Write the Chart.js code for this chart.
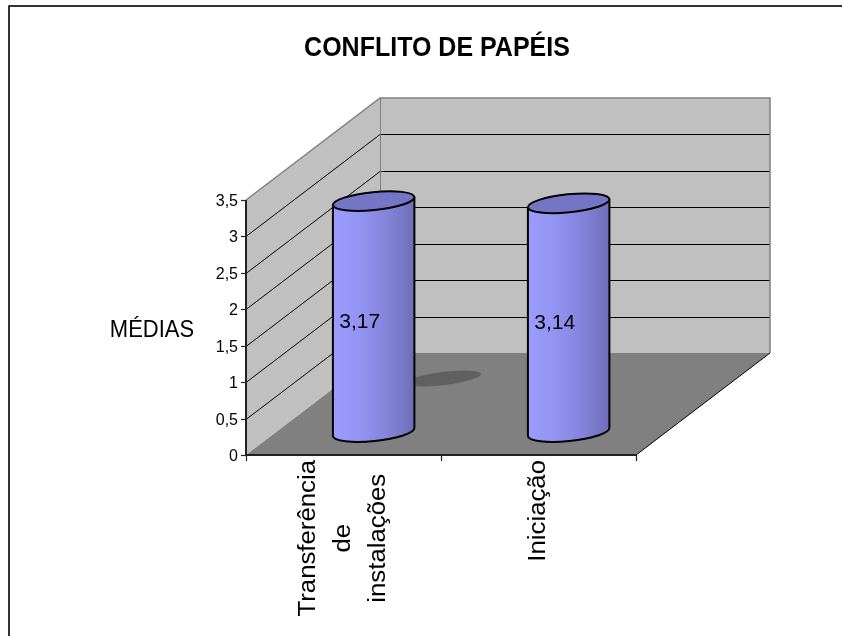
<!DOCTYPE html>
<html>
<head>
<meta charset="utf-8">
<script src="https://cdn.jsdelivr.net/npm/chart.js@4/dist/chart.umd.min.js"></script>
<style>
  html, body { margin: 0; padding: 0; background: #fff; }
  canvas { display: block; }
</style>
</head>
<body>
<canvas id="chart" width="842" height="636"></canvas>
<script>
// Chart content
const chartTitle = 'CONFLITO DE PAPÉIS';
const axisTitle = 'MÉDIAS';
const categories = [['Transferência', 'de', 'instalações'], ['Iniciação']];
const medias = [3.17, 3.14];
const yMin = 0;
const yMax = 3.5;
const yStep = 0.5;

const FONT = '"Liberation Sans", Arial, Helvetica, sans-serif';
const fmt = v => String(Math.round(v * 100) / 100).replace('.', ',');

// Oblique projection of the plot box: offset from the front plane to the back wall
const DEPTH = { dx: 134, dy: -102 };
const BAR_DEPTH = 0.225;   // cylinders stand a little behind the front edge

function poly(ctx, pts) {
  ctx.beginPath();
  ctx.moveTo(pts[0][0], pts[0][1]);
  for (let i = 1; i < pts.length; i++) ctx.lineTo(pts[i][0], pts[i][1]);
  ctx.closePath();
}
function line(ctx, x1, y1, x2, y2) {
  ctx.beginPath(); ctx.moveTo(x1, y1); ctx.lineTo(x2, y2); ctx.stroke();
}
function stretchedText(ctx, text, x, y, sy) {
  ctx.save();
  ctx.translate(x, y);
  ctx.scale(1, sy);
  ctx.fillText(text, 0, 0);
  ctx.restore();
}

const scene3d = {
  id: 'scene3d',
  beforeDatasetsDraw(chart) {
    const { ctx, chartArea: a, scales: { x, y } } = chart;
    const L = a.left, R = a.right, T = a.top, B = a.bottom;
    const dx = DEPTH.dx, dy = DEPTH.dy;
    ctx.save();

    // walls
    ctx.fillStyle = '#c0c0c0';
    poly(ctx, [[L, T], [L + dx, T + dy], [L + dx, B + dy], [L, B]]);
    ctx.fill();
    ctx.fillRect(L + dx, T + dy, R - L, B - T);

    // floor
    ctx.fillStyle = '#808080';
    poly(ctx, [[L, B], [L + dx, B + dy], [R + dx, B + dy], [R, B]]);
    ctx.fill();

    // gridlines on side and back walls
    ctx.lineWidth = 1;
    ctx.strokeStyle = '#000';
    y.ticks.forEach(t => {
      if (t.value <= yMin || t.value >= yMax) return;
      const py = Math.round(y.getPixelForValue(t.value)) + 0.5;
      line(ctx, L, py, L + dx, py + dy);
      line(ctx, L + dx, py + dy, R + dx, py + dy);
    });

    // wall edges
    ctx.strokeStyle = '#808080';
    ctx.lineWidth = 1.5;
    ctx.beginPath();
    ctx.moveTo(L, T); ctx.lineTo(L + dx, T + dy); ctx.lineTo(R + dx, T + dy); ctx.lineTo(R + dx, B + dy);
    ctx.stroke();
    ctx.lineWidth = 1;
    line(ctx, L + dx + 0.5, T + dy, L + dx + 0.5, B + dy);

    // floor edge
    ctx.strokeStyle = '#000';
    ctx.lineWidth = 1;
    line(ctx, R, B, R + dx, B + dy);

    // shadow cast on the floor
    const first = chart.getDatasetMeta(0).data[0];
    ctx.fillStyle = '#606060';
    ctx.beginPath();
    ctx.ellipse(first.x + 100, B + dy * 0.75, 38, 6.5, -0.12, 0, Math.PI * 2);
    ctx.fill();

    // axes
    ctx.strokeStyle = '#222';
    ctx.lineWidth = 2;
    line(ctx, L, T, L, B + 1);
    line(ctx, L - 1, B, R + 1, B);

    // y ticks and labels
    ctx.lineWidth = 1.2;
    ctx.fillStyle = '#000';
    ctx.font = '16px ' + FONT;
    ctx.textAlign = 'right';
    ctx.textBaseline = 'middle';
    y.ticks.forEach(t => {
      const py = Math.round(y.getPixelForValue(t.value)) + 0.5;
      line(ctx, L - 5, py, L, py);
      ctx.fillText(fmt(t.value), L - 8, py + 1);
    });

    // x ticks at category boundaries
    const n = categories.length;
    for (let i = 0; i <= n; i++) {
      const px = Math.round(L + (R - L) * i / n) + 0.5;
      line(ctx, px, B, px, B + 6);
    }
    ctx.restore();
  },

  afterDatasetsDraw(chart) {
    const { ctx, chartArea: a, scales: { x } } = chart;
    const meta = chart.getDatasetMeta(0);
    ctx.save();

    meta.data.forEach((bar, i) => {
      const cx = bar.x + DEPTH.dx * BAR_DEPTH;
      const top = bar.y + DEPTH.dy * BAR_DEPTH;
      const bot = bar.base + DEPTH.dy * BAR_DEPTH;
      const rx = bar.width / 2, ry = 9, rot = -0.1;
      const ex = rx * Math.cos(rot), ey = rx * Math.sin(rot);

      const grad = ctx.createLinearGradient(cx - rx, 0, cx + rx, 0);
      grad.addColorStop(0, '#9c9cff');
      grad.addColorStop(0.3, '#9494f4');
      grad.addColorStop(0.6, '#8787e0');
      grad.addColorStop(0.85, '#7878c8');
      grad.addColorStop(1, '#6c6cb6');

      ctx.beginPath();
      ctx.moveTo(cx - ex, top - ey);
      ctx.lineTo(cx - ex, bot - ey);
      ctx.ellipse(cx, bot, rx, ry, rot, Math.PI, 0, true);
      ctx.lineTo(cx + ex, top + ey);
      ctx.ellipse(cx, top, rx, ry, rot, 0, Math.PI, false);
      ctx.closePath();
      ctx.fillStyle = grad;
      ctx.fill();

      ctx.strokeStyle = '#000';
      ctx.lineWidth = 2;
      ctx.lineJoin = 'round';
      ctx.beginPath();
      ctx.moveTo(cx - ex, top - ey);
      ctx.lineTo(cx - ex, bot - ey);
      ctx.ellipse(cx, bot, rx, ry, rot, Math.PI, 0, true);
      ctx.lineTo(cx + ex, top + ey);
      ctx.stroke();

      ctx.beginPath();
      ctx.ellipse(cx, top, rx, ry, rot, 0, Math.PI * 2);
      ctx.fillStyle = '#7575c6';
      ctx.fill();
      ctx.stroke();

      // value label
      ctx.fillStyle = '#000';
      ctx.font = '21px ' + FONT;
      ctx.textAlign = 'center';
      ctx.textBaseline = 'middle';
      ctx.fillText(fmt(medias[i]), cx - 14, (top + bot) / 2 + 6);
    });

    // category labels, rotated, lines centred on each other
    ctx.font = '23px ' + FONT;
    ctx.fillStyle = '#000';
    ctx.textAlign = 'center';
    ctx.textBaseline = 'middle';
    const lineGap = 35;
    categories.forEach((lines, i) => {
      const px = x.getPixelForValue(i);
      const widest = Math.max(...lines.map(s => ctx.measureText(s).width)) * 1.12;
      const cy = a.bottom + 5 + widest / 2;
      lines.forEach((s, j) => {
        const lx = px + (j - (lines.length - 1) / 2) * lineGap;
        ctx.save();
        ctx.translate(lx, cy);
        ctx.rotate(-Math.PI / 2);
        ctx.scale(1.12, 1);
        ctx.fillText(s, 0, 0);
        ctx.restore();
      });
    });

    // axis title
    ctx.font = '22px ' + FONT;
    ctx.textAlign = 'center';
    ctx.textBaseline = 'alphabetic';
    stretchedText(ctx, axisTitle, 152, 337, 1.1);

    // chart title
    ctx.font = 'bold 25px ' + FONT;
    stretchedText(ctx, chartTitle, 437, 56, 1.12);

    // frame
    ctx.strokeStyle = '#333';
    ctx.lineWidth = 2;
    ctx.strokeRect(9, 6, 900, 700);
    ctx.restore();
  }
};

new Chart(document.getElementById('chart'), {
  type: 'bar',
  data: {
    labels: categories,
    datasets: [{
      data: medias,
      backgroundColor: 'rgba(0,0,0,0)',
      borderWidth: 0,
      barPercentage: 0.84,
      categoryPercentage: 0.5
    }]
  },
  options: {
    responsive: false,
    animation: false,
    layout: { padding: { left: 246, right: 206, top: 200, bottom: 181 } },
    plugins: { legend: { display: false }, title: { display: false }, tooltip: { enabled: false } },
    scales: {
      x: { display: false },
      y: { display: false, min: yMin, max: yMax, ticks: { stepSize: yStep } }
    }
  },
  plugins: [scene3d]
});
</script>
</body>
</html>
